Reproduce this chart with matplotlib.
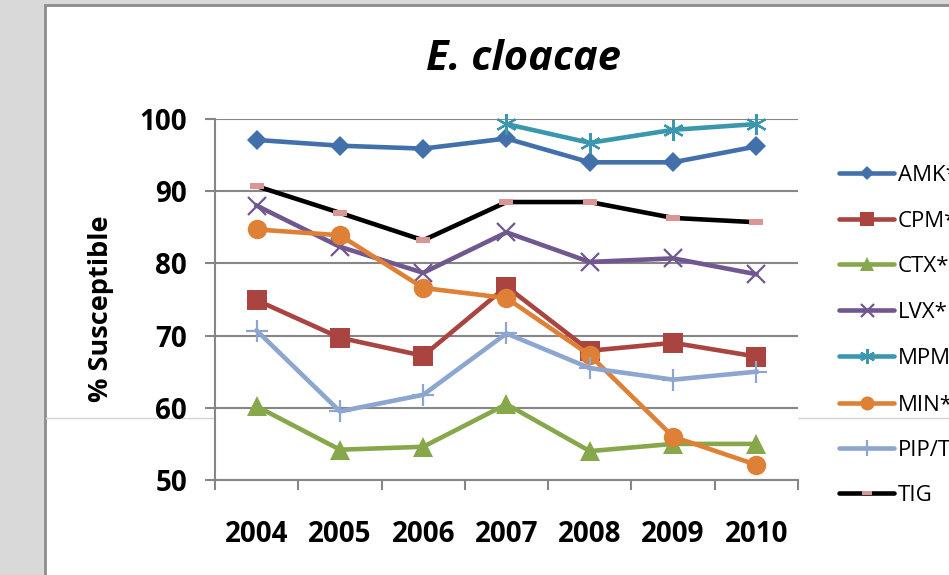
import matplotlib
matplotlib.use("Agg")
import matplotlib.pyplot as plt
from matplotlib.lines import Line2D
from matplotlib.patches import Rectangle
from matplotlib.path import Path
import numpy as np

years = ["2004", "2005", "2006", "2007", "2008", "2009", "2010"]
amk = [97.1, 96.3, 95.9, 97.3, 94.0, 94.0, 96.2]
cpm = [74.9, 69.7, 67.2, 76.8, 67.9, 69.0, 67.1]
ctx = [60.2, 54.2, 54.6, 60.5, 54.0, 55.0, 55.0]
lvx = [88.0, 82.3, 78.7, 84.3, 80.2, 80.7, 78.5]
mpm = [None, None, None, 99.3, 96.7, 98.5, 99.3]
mino = [84.7, 83.9, 76.6, 75.2, 67.3, 56.0, 52.1]
piptz = [70.7, 59.5, 61.8, 70.3, 65.5, 63.9, 65.0]
tig = [90.7, 87.0, 83.2, 88.5, 88.5, 86.3, 85.7]

labels = ["AMK*", "CPM*", "CTX*", "LVX*", "MPM", "MIN*", "PIP/TZ", "TIG"]

W, H, DPI = 949, 575, 100
FONT = "Open Sans"

dash_marker = Path([(-1, -0.45), (1, -0.45), (1, 0.45), (-1, 0.45), (-1, -0.45)],
                   [Path.MOVETO, Path.LINETO, Path.LINETO, Path.LINETO, Path.CLOSEPOLY])

styles = [
    dict(color="#4270AA", marker="D", ms=10, mew=0),
    dict(color="#A94441", marker="s", ms=14, mew=0),
    dict(color="#86A84B", marker="^", ms=14, mew=0),
    dict(color="#70578F", marker="x", ms=13, mew=1.6),
    dict(color="#3A97AD", marker=(6, 2, 0), ms=15, mew=1.6),
    dict(color="#DE8137", marker="o", ms=14, mew=0),
    dict(color="#8CA6CF", marker="+", ms=16, mew=1.6),
    dict(color="#000000", marker=dash_marker, ms=10, mew=0, mfc="#D99694", mec="#D99694"),
]
series = [amk, cpm, ctx, lvx, mpm, mino, piptz, tig]

fig = plt.figure(figsize=(W / DPI, H / DPI), dpi=DPI)
fig.patch.set_facecolor("#D9D9D9")

def fx(px):
    return px / W

def fy(py):
    return 1 - py / H

# white chart area with border
fig.add_artist(Rectangle((fx(45), fy(700)), fx(1000), fy(5) - fy(700),
                         transform=fig.transFigure, facecolor="white",
                         edgecolor="#8C8C8C", lw=2, zorder=0))
# faint horizontal rule across the chart area
fig.add_artist(Line2D([fx(46), 1.0], [fy(418), fy(418)], transform=fig.transFigure,
                      color="#D4D4D4", lw=1.0, zorder=0.5))

ax = fig.add_axes([fx(215), fy(480), fx(798) - fx(215), fy(119) - fy(480)])
ax.set_facecolor("white")
ax.set_zorder(1)

x = np.arange(len(years))
for vals, st in zip(series, styles):
    v = np.array([np.nan if a is None else a for a in vals], dtype=float)
    kw = dict(st)
    mfc = kw.pop("mfc", kw["color"])
    mec = kw.pop("mec", kw["color"])
    ax.plot(x, v, lw=3.3, solid_joinstyle="miter", marker=kw["marker"],
            ms=kw["ms"], mew=kw["mew"], color=kw["color"], mfc=mfc, mec=mec,
            clip_on=False, zorder=3)

ax.set_xlim(-0.5, len(years) - 0.5)
ax.set_ylim(50, 100)
ax.set_yticks([50, 60, 70, 80, 90, 100])
ax.yaxis.grid(True, color="#868686", lw=1.5)
ax.set_axisbelow(True)
for s in ["top", "right"]:
    ax.spines[s].set_visible(False)
for s in ["left", "bottom"]:
    ax.spines[s].set_color("#868686")
    ax.spines[s].set_linewidth(1.5)

ax.set_xticks(x)
ax.set_xticklabels(years)
ax.set_xticks(np.arange(-0.5, len(years)), minor=True)
ax.tick_params(axis="x", which="major", length=0, pad=29)
ax.tick_params(axis="x", which="minor", length=7, width=1.5, color="#868686", direction="out")
ax.tick_params(axis="y", length=7, width=1.5, color="#868686", direction="out", pad=13)
for lab in ax.get_xticklabels() + ax.get_yticklabels():
    lab.set_fontfamily(FONT)
    lab.set_fontweight("bold")
    lab.set_fontsize(20)

fig.text(fx(524), fy(70), "E. cloacae", ha="center", va="baseline",
         fontfamily=FONT, fontweight="bold", fontstyle="italic", fontsize=30)
fig.text(fx(108), fy(309), "% Susceptible", ha="center", va="baseline", rotation=90,
         rotation_mode="anchor", fontfamily=FONT, fontweight="bold", fontsize=19.5)

# legend entries
leg_y = [173, 219, 264, 310, 356, 403, 448, 493]
for lab, st, py in zip(labels, styles, leg_y):
    kw = dict(st)
    mfc = kw.pop("mfc", kw["color"])
    mec = kw.pop("mec", kw["color"])
    fig.add_artist(Line2D([fx(839), fx(894)], [fy(py), fy(py)], transform=fig.transFigure,
                          color=kw["color"], lw=3.3, solid_capstyle="round", zorder=3))
    fig.add_artist(Line2D([fx(866.5)], [fy(py)], transform=fig.transFigure,
                          marker=kw["marker"], ms=kw["ms"] * 0.72, mew=kw["mew"],
                          mfc=mfc, mec=mec, color=kw["color"], lw=0, zorder=4))
    fig.text(fx(898), fy(py + 8), lab, ha="left", va="baseline", fontfamily=FONT,
             fontsize=16, color="black", zorder=4)

fig.savefig("out.png", dpi=DPI, facecolor=fig.get_facecolor())
